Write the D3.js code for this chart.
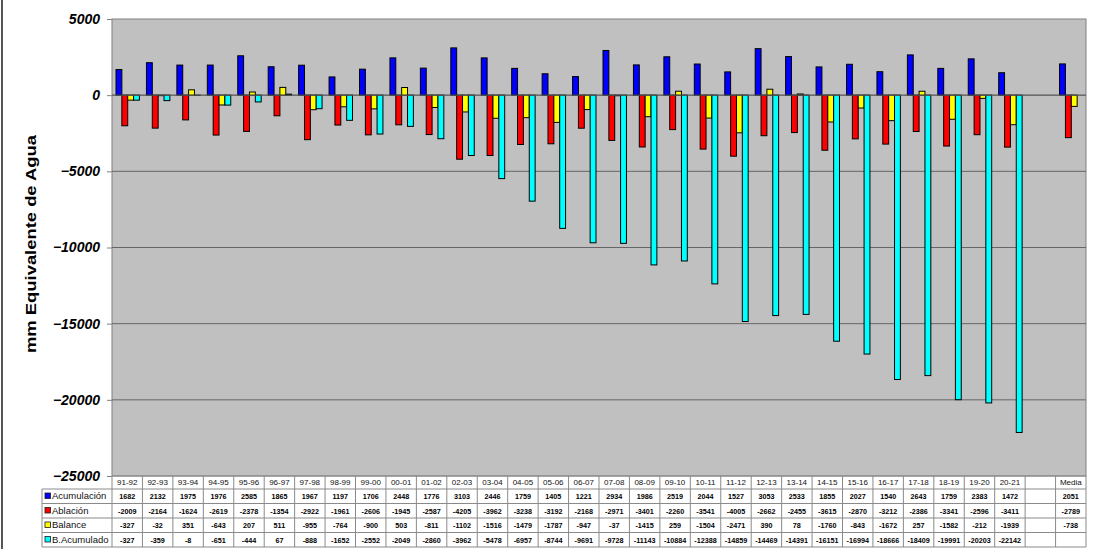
<!DOCTYPE html>
<html>
<head>
<meta charset="utf-8">
<script src="https://cdn.jsdelivr.net/npm/d3@7"></script>
<style>
  body { margin: 0; background: #fff; }
  svg { display: block; font-family: Arial, "Liberation Sans", sans-serif; }
</style>
</head>
<body>
<svg id="chart" width="1101" height="549"></svg>
<script>
// data
const years = ["91-92","92-93","93-94","94-95","95-96","96-97","97-98","98-99","99-00","00-01",
  "01-02","02-03","03-04","04-05","05-06","06-07","07-08","08-09","09-10","10-11",
  "11-12","12-13","13-14","14-15","15-16","16-17","17-18","18-19","19-20","20-21"];
const acumulacion = [1682,2132,1975,1976,2585,1865,1967,1197,1706,2448,1776,3103,2446,1759,1405,
  1221,2934,1986,2519,2044,1527,3053,2533,1855,2027,1540,2643,1759,2383,1472];
const ablacion = [-2009,-2164,-1624,-2619,-2378,-1354,-2922,-1961,-2606,-1945,-2587,-4205,-3962,-3238,-3192,
  -2168,-2971,-3401,-2260,-3541,-4005,-2662,-2455,-3615,-2870,-3212,-2386,-3341,-2596,-3411];
const balance = [-327,-32,351,-643,207,511,-955,-764,-900,503,-811,-1102,-1516,-1479,-1787,
  -947,-37,-1415,259,-1504,-2471,390,78,-1760,-843,-1672,257,-1582,-212,-1939];
const bAcumulado = [-327,-359,-8,-651,-444,67,-888,-1652,-2552,-2049,-2860,-3962,-5478,-6957,-8744,
  -9691,-9728,-11143,-10884,-12388,-14859,-14469,-14391,-16151,-16994,-18666,-18409,-19991,-20203,-22142];
const media = { acumulacion: 2051, ablacion: -2789, balance: -738, bAcumulado: null };
const yTicks = [5000, 0, -5000, -10000, -15000, -20000, -25000];

const series = [
  { key: "acumulacion", name: "Acumulación", color: "#0000ff", values: acumulacion },
  { key: "ablacion", name: "Ablación", color: "#ff0000", values: ablacion },
  { key: "balance", name: "Balance", color: "#ffff00", values: balance },
  { key: "bAcumulado", name: "B.Acumulado", color: "#00ffff", values: bAcumulado }
];

// columns: 30 years, one empty column, then Media
const cols = years.concat(["_blank", "Media"]);
const rows = cols.map((c, i) => {
  const r = { col: c };
  series.forEach(s => {
    if (i < years.length) r[s.key] = s.values[i];
    else if (c === "Media") r[s.key] = media[s.key];
    else r[s.key] = null;
  });
  return r;
});

const svg = d3.select("#chart");
const plot = { left: 112, right: 1086, top: 19, bottom: 476 };

const x = d3.scaleBand().domain(cols).range([plot.left, plot.right]).padding(0);
const xs = d3.scaleBand().domain(series.map(s => s.key)).range([4, x.bandwidth() - 3]);
const y = d3.scaleLinear().domain([-25000, 5000]).range([plot.bottom, plot.top]);

// page frame line on the left
svg.append("line").attr("x1", 2).attr("x2", 2).attr("y1", 0).attr("y2", 549)
  .attr("stroke", "#555").attr("stroke-width", 2);

// plot background
svg.append("rect")
  .attr("x", plot.left).attr("y", plot.top)
  .attr("width", plot.right - plot.left).attr("height", plot.bottom - plot.top)
  .attr("fill", "#c0c0c0").attr("stroke", "#808080");

// gridlines
svg.append("g").selectAll("line").data(yTicks.slice(1, -1)).join("line")
  .attr("x1", plot.left).attr("x2", plot.right)
  .attr("y1", d => y(d)).attr("y2", d => y(d))
  .attr("stroke", "#666").attr("stroke-width", 1);

// y axis
const yAxis = svg.append("g")
  .attr("transform", `translate(${plot.left},0)`)
  .call(d3.axisLeft(y).tickValues(yTicks).tickFormat(d3.format("d")).tickSize(5).tickPadding(7));
yAxis.select(".domain").remove();
yAxis.selectAll(".tick line").attr("stroke", "#808080");
yAxis.selectAll(".tick text")
  .attr("font-size", 14).attr("font-weight", "bold").attr("font-style", "italic")
  .attr("font-family", "Arial, 'Liberation Sans', sans-serif").attr("fill", "#000");

svg.append("text")
  .attr("transform", "translate(36,244) rotate(-90)")
  .attr("text-anchor", "middle")
  .attr("font-size", 14.5).attr("font-weight", "bold")
  .attr("textLength", 218).attr("lengthAdjust", "spacingAndGlyphs")
  .text("mm Equivalente de Agua");

// bars
const groups = svg.append("g").selectAll("g").data(rows).join("g")
  .attr("transform", d => `translate(${x(d.col)},0)`);

groups.selectAll("rect")
  .data(d => series.filter(s => d[s.key] != null).map(s => ({ s, v: d[s.key] })))
  .join("rect")
  .attr("x", d => xs(d.s.key))
  .attr("width", xs.bandwidth())
  .attr("y", d => y(Math.max(0, d.v)))
  .attr("height", d => Math.abs(y(d.v) - y(0)))
  .attr("fill", d => d.s.color)
  .attr("stroke", "#000").attr("stroke-width", 1);

// zero line over bars
svg.append("line").attr("x1", plot.left).attr("x2", plot.right)
  .attr("y1", y(0)).attr("y2", y(0)).attr("stroke", "#606060");

// data table
const tbl = { labelLeft: 42, headerTop: plot.bottom, rowH: 14.5 };
const headerBottom = 489;
const tableBottom = headerBottom + tbl.rowH * series.length;
const tg = svg.append("g");
const lineColor = "#8a8a8a";

// horizontal lines
tg.append("line").attr("x1", plot.left).attr("x2", plot.right)
  .attr("y1", tbl.headerTop).attr("y2", tbl.headerTop).attr("stroke", lineColor);
d3.range(series.length + 1).forEach(i => {
  const yy = headerBottom + i * tbl.rowH;
  tg.append("line").attr("x1", tbl.labelLeft).attr("x2", plot.right)
    .attr("y1", yy).attr("y2", yy).attr("stroke", lineColor);
});
// vertical lines
tg.append("line").attr("x1", tbl.labelLeft).attr("x2", tbl.labelLeft)
  .attr("y1", headerBottom).attr("y2", tableBottom).attr("stroke", lineColor);
cols.concat([null]).forEach(c => {
  const xx = c ? x(c) : plot.right;
  tg.append("line").attr("x1", xx).attr("x2", xx)
    .attr("y1", tbl.headerTop).attr("y2", tableBottom).attr("stroke", lineColor);
});

// header labels
tg.selectAll("text.hdr").data(cols.filter(c => c !== "_blank")).join("text")
  .attr("class", "hdr")
  .attr("x", d => x(d) + x.bandwidth() / 2).attr("y", tbl.headerTop + 9)
  .attr("text-anchor", "middle").attr("font-size", 8).attr("fill", "#111")
  .text(d => d);

// row labels with legend keys
series.forEach((s, i) => {
  const yy = headerBottom + i * tbl.rowH;
  tg.append("rect").attr("x", 45).attr("y", yy + 4).attr("width", 5.5).attr("height", 5.5)
    .attr("fill", s.color).attr("stroke", "#1a1a1a").attr("stroke-width", 0.8);
  tg.append("text").attr("x", 52).attr("y", yy + 10).attr("font-size", 9.5).attr("fill", "#111")
    .text(s.name);
  tg.selectAll(null).data(rows.filter(r => r[s.key] != null)).join("text")
    .attr("x", d => x(d.col) + x.bandwidth() / 2).attr("y", yy + 10)
    .attr("text-anchor", "middle").attr("font-size", 7.2).attr("fill", "#000")
    .attr("font-weight", "bold")
    .text(d => d[s.key]);
});
</script>
</body>
</html>
